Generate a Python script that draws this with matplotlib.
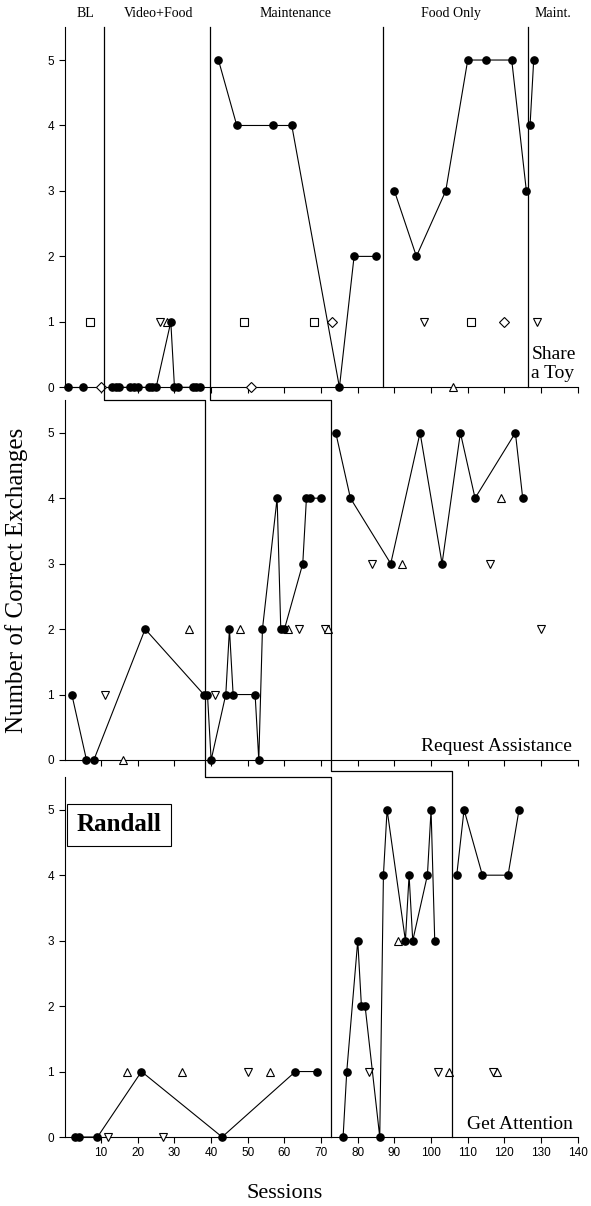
import matplotlib.pyplot as plt
from matplotlib.lines import Line2D
from matplotlib import transforms

plt.rcParams['font.family'] = ['Liberation Sans', 'DejaVu Sans']
SERIF = ['Liberation Serif', 'DejaVu Serif']

# ---- Share a Toy (top panel) ----
toy_x = [[1, 5],
         [13, 14, 15, 18, 19, 20, 23, 24, 25, 29, 30, 31, 35, 36, 37],
         [42, 47, 57, 62, 75, 79, 85],
         [90, 96, 104, 110, 115, 122, 126],
         [127, 128]]
toy_y = [[0, 0],
         [0, 0, 0, 0, 0, 0, 0, 0, 0, 1, 0, 0, 0, 0, 0],
         [5, 4, 4, 4, 0, 2, 2],
         [3, 2, 3, 5, 5, 5, 3],
         [4, 5]]
toy_sq_x = [7, 49, 68, 111]
toy_sq_y = [1, 1, 1, 1]
toy_dia_x = [10, 51, 73, 120]
toy_dia_y = [0, 0, 1, 1]
toy_dn_x = [26, 98, 129]
toy_dn_y = [1, 1, 1]
toy_up_x = [28, 106]
toy_up_y = [1, 0]

# ---- Request Assistance (middle panel) ----
req_x = [[2, 6, 8, 22, 38],
         [39, 40, 44, 45, 46, 52, 53, 54, 58, 59, 60, 65, 66, 67, 70],
         [74, 78, 89, 97, 103, 108, 112, 123, 125]]
req_y = [[1, 0, 0, 2, 1],
         [1, 0, 1, 2, 1, 1, 0, 2, 4, 2, 2, 3, 4, 4, 4],
         [5, 4, 3, 5, 3, 5, 4, 5, 4]]
req_dn_x = [11, 41, 64, 71, 84, 116, 130]
req_dn_y = [1, 1, 2, 2, 3, 3, 2]
req_up_x = [16, 34, 48, 61, 72, 92, 119]
req_up_y = [0, 2, 2, 2, 2, 3, 4]

# ---- Get Attention (bottom panel) ----
att_x = [[3, 4, 9, 21, 43, 63, 69],
         [76, 77, 80, 81, 82, 86, 87, 88, 93, 94, 95, 99, 100, 101],
         [107, 109, 114, 121, 124]]
att_y = [[0, 0, 0, 1, 0, 1, 1],
         [0, 1, 3, 2, 2, 0, 4, 5, 3, 4, 3, 4, 5, 3],
         [4, 5, 4, 4, 5]]
att_up_x = [17, 32, 56, 91, 105, 118]
att_up_y = [1, 1, 1, 3, 1, 1]
att_dn_x = [12, 27, 50, 83, 102, 117]
att_dn_y = [0, 0, 1, 1, 1, 1]

# phase change lines (session values)
toy_changes = [10.7, 39.7, 86.8, 126.4]
req_changes = [38.3, 72.8]
att_changes = [72.8, 105.6]

phase_names = ['BL', 'Video+Food', 'Maintenance', 'Food Only', 'Maint.']
phase_name_x = [5.8, 25.8, 63.1, 105.4, 133.1]

W, H = 591, 1206
fig = plt.figure(figsize=(W / 100, H / 100), dpi=100)

left_px, right_px = 64.5, 577.7
tops_px = [27.3, 400, 777]
h_px = 360
axes = []
for t in tops_px:
    ax = fig.add_axes([left_px / W, 1 - (t + h_px) / H, (right_px - left_px) / W, h_px / H])
    axes.append(ax)

circ = dict(color='black', marker='o', ms=5.2, lw=0.8, zorder=4, clip_on=False)
open_kw = dict(ls='none', mfc='white', mec='black', mew=0.8, zorder=3, clip_on=False)


def style(ax, show_labels):
    ax.set_xlim(0, 140)
    ax.set_ylim(0, 5.5)
    ax.spines['top'].set_visible(False)
    ax.spines['right'].set_visible(False)
    ax.spines['left'].set_linewidth(0.8)
    ax.spines['bottom'].set_linewidth(0.8)
    ax.set_xticks(range(10, 141, 10))
    ax.set_yticks(range(0, 6))
    ax.tick_params(direction='out', length=4, width=0.8, labelsize=8.5)
    if not show_labels:
        ax.set_xticklabels([])


ax1, ax2, ax3 = axes

for xs, ys in zip(toy_x, toy_y):
    ax1.plot(xs, ys, **circ)
ax1.plot(toy_sq_x, toy_sq_y, marker='s', ms=5.3, **open_kw)
ax1.plot(toy_dia_x, toy_dia_y, marker='D', ms=5.3, **open_kw)
ax1.plot(toy_dn_x, toy_dn_y, marker='v', ms=5.8, **open_kw)
ax1.plot(toy_up_x, toy_up_y, marker='^', ms=5.8, **open_kw)
style(ax1, False)

for xs, ys in zip(req_x, req_y):
    ax2.plot(xs, ys, **circ)
ax2.plot(req_dn_x, req_dn_y, marker='v', ms=5.8, **open_kw)
ax2.plot(req_up_x, req_up_y, marker='^', ms=5.8, **open_kw)
style(ax2, False)

for xs, ys in zip(att_x, att_y):
    ax3.plot(xs, ys, **circ)
ax3.plot(att_dn_x, att_dn_y, marker='v', ms=5.8, **open_kw)
ax3.plot(att_up_x, att_up_y, marker='^', ms=5.8, **open_kw)
style(ax3, True)

# phase change lines, drawn across panels
fy = lambda px: 1 - px / H
tr = transforms.blended_transform_factory(ax1.transData, fig.transFigure)
t1, t2, t3 = [fy(t) for t in tops_px]
b1, b3 = fy(tops_px[0] + h_px), fy(tops_px[2] + h_px)
paths = [
    ([toy_changes[0], toy_changes[0], req_changes[0], req_changes[0], att_changes[0], att_changes[0]],
     [t1, t2, t2, t3, t3, b3]),
    ([toy_changes[1], toy_changes[1], req_changes[1], req_changes[1], att_changes[1], att_changes[1]],
     [t1, t2, t2, fy(771), fy(771), b3]),
    ([toy_changes[2], toy_changes[2]], [t1, b1]),
    ([toy_changes[3], toy_changes[3]], [t1, b1]),
]
for xs, ys in paths:
    fig.add_artist(Line2D(xs, ys, transform=tr, color='black', lw=0.9, zorder=2))

# phase names
for name, xp in zip(phase_names, phase_name_x):
    ax1.text(xp, fy(17), name, transform=tr, ha='center', va='baseline',
             fontsize=10, family=SERIF)

ax1.text(139.5, 0.08, 'Share\na Toy', ha='right', va='bottom', fontsize=14,
         multialignment='left', linespacing=1.15, family=SERIF)
ax2.text(138.5, 0.08, 'Request Assistance', ha='right', va='bottom', fontsize=14, family=SERIF)
ax3.text(138.8, 0.06, 'Get Attention', ha='right', va='bottom', fontsize=14, family=SERIF)

ax3.text(3.3, 4.77, 'Randall', ha='left', va='center', fontsize=18, fontweight='bold',
         family=SERIF,
         bbox=dict(boxstyle='square,pad=0.38', fc='white', ec='black', lw=0.8))

fig.text(17 / W, fy(580), 'Number of Correct Exchanges', rotation=90,
         ha='center', va='center', fontsize=18, family=SERIF)
fig.text(284.5 / W, fy(1193), 'Sessions', ha='center', va='center', fontsize=16, family=SERIF)

fig.savefig('out.png', dpi=100)
